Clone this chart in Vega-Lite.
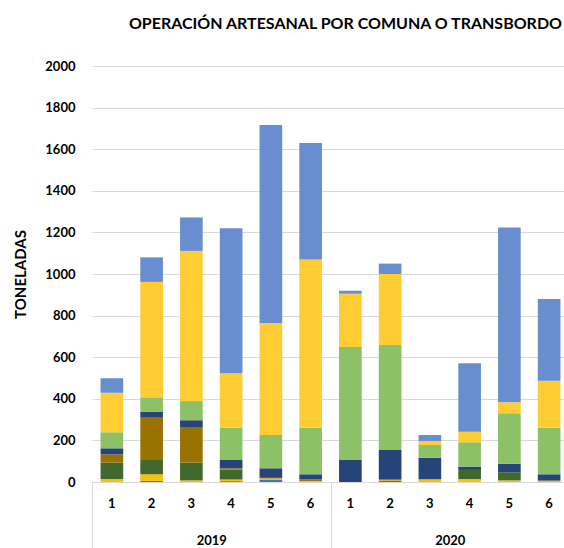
{
  "$schema": "https://vega.github.io/schema/vega-lite/v6.json",
  "width": 477,
  "height": 416,
  "autosize": {"type": "none"},
  "padding": {"left": 92, "top": 66, "right": 0, "bottom": 66},
  "background": "white",
  "config": {"view": {"stroke": null}, "font": "Lato"},
  "title": {"text": "OPERACIÓN ARTESANAL POR COMUNA O TRANSBORDO", "anchor": "end", "frame": "group", "dx": -7, "font": "Lato", "fontSize": 16, "fontWeight": "bold", "color": "#000000", "offset": 28},
  "data": {"values": [
    {"periodo": "2019-1", "anio": "2019", "serie": "S2", "toneladas": 14},
    {"periodo": "2019-1", "anio": "2019", "serie": "S3", "toneladas": 79},
    {"periodo": "2019-1", "anio": "2019", "serie": "S4", "toneladas": 40},
    {"periodo": "2019-1", "anio": "2019", "serie": "S5", "toneladas": 29},
    {"periodo": "2019-1", "anio": "2019", "serie": "S6", "toneladas": 77},
    {"periodo": "2019-1", "anio": "2019", "serie": "S7", "toneladas": 190},
    {"periodo": "2019-1", "anio": "2019", "serie": "S8", "toneladas": 70},
    {"periodo": "2019-2", "anio": "2019", "serie": "S1", "toneladas": 6},
    {"periodo": "2019-2", "anio": "2019", "serie": "S2", "toneladas": 31},
    {"periodo": "2019-2", "anio": "2019", "serie": "S3", "toneladas": 69},
    {"periodo": "2019-2", "anio": "2019", "serie": "S4", "toneladas": 203},
    {"periodo": "2019-2", "anio": "2019", "serie": "S5", "toneladas": 28},
    {"periodo": "2019-2", "anio": "2019", "serie": "S6", "toneladas": 70},
    {"periodo": "2019-2", "anio": "2019", "serie": "S7", "toneladas": 555},
    {"periodo": "2019-2", "anio": "2019", "serie": "S8", "toneladas": 118},
    {"periodo": "2019-3", "anio": "2019", "serie": "S2", "toneladas": 8},
    {"periodo": "2019-3", "anio": "2019", "serie": "S3", "toneladas": 85},
    {"periodo": "2019-3", "anio": "2019", "serie": "S4", "toneladas": 168},
    {"periodo": "2019-3", "anio": "2019", "serie": "S5", "toneladas": 36},
    {"periodo": "2019-3", "anio": "2019", "serie": "S6", "toneladas": 92},
    {"periodo": "2019-3", "anio": "2019", "serie": "S7", "toneladas": 722},
    {"periodo": "2019-3", "anio": "2019", "serie": "S8", "toneladas": 161},
    {"periodo": "2019-4", "anio": "2019", "serie": "S1", "toneladas": 4},
    {"periodo": "2019-4", "anio": "2019", "serie": "S2", "toneladas": 8},
    {"periodo": "2019-4", "anio": "2019", "serie": "S3", "toneladas": 48},
    {"periodo": "2019-4", "anio": "2019", "serie": "S4", "toneladas": 6},
    {"periodo": "2019-4", "anio": "2019", "serie": "S5", "toneladas": 40},
    {"periodo": "2019-4", "anio": "2019", "serie": "S6", "toneladas": 155},
    {"periodo": "2019-4", "anio": "2019", "serie": "S7", "toneladas": 262},
    {"periodo": "2019-4", "anio": "2019", "serie": "S8", "toneladas": 697},
    {"periodo": "2019-5", "anio": "2019", "serie": "S1", "toneladas": 12},
    {"periodo": "2019-5", "anio": "2019", "serie": "S2", "toneladas": 5},
    {"periodo": "2019-5", "anio": "2019", "serie": "S4", "toneladas": 3},
    {"periodo": "2019-5", "anio": "2019", "serie": "S5", "toneladas": 46},
    {"periodo": "2019-5", "anio": "2019", "serie": "S6", "toneladas": 160},
    {"periodo": "2019-5", "anio": "2019", "serie": "S7", "toneladas": 539},
    {"periodo": "2019-5", "anio": "2019", "serie": "S8", "toneladas": 951},
    {"periodo": "2019-6", "anio": "2019", "serie": "S2", "toneladas": 5},
    {"periodo": "2019-6", "anio": "2019", "serie": "S4", "toneladas": 8},
    {"periodo": "2019-6", "anio": "2019", "serie": "S5", "toneladas": 24},
    {"periodo": "2019-6", "anio": "2019", "serie": "S6", "toneladas": 224},
    {"periodo": "2019-6", "anio": "2019", "serie": "S7", "toneladas": 809},
    {"periodo": "2019-6", "anio": "2019", "serie": "S8", "toneladas": 560},
    {"periodo": "2020-1", "anio": "2020", "serie": "S5", "toneladas": 106},
    {"periodo": "2020-1", "anio": "2020", "serie": "S6", "toneladas": 543},
    {"periodo": "2020-1", "anio": "2020", "serie": "S7", "toneladas": 256},
    {"periodo": "2020-1", "anio": "2020", "serie": "S8", "toneladas": 15},
    {"periodo": "2020-2", "anio": "2020", "serie": "S1", "toneladas": 5},
    {"periodo": "2020-2", "anio": "2020", "serie": "S2", "toneladas": 3},
    {"periodo": "2020-2", "anio": "2020", "serie": "S4", "toneladas": 4},
    {"periodo": "2020-2", "anio": "2020", "serie": "S5", "toneladas": 142},
    {"periodo": "2020-2", "anio": "2020", "serie": "S6", "toneladas": 505},
    {"periodo": "2020-2", "anio": "2020", "serie": "S7", "toneladas": 341},
    {"periodo": "2020-2", "anio": "2020", "serie": "S8", "toneladas": 50},
    {"periodo": "2020-3", "anio": "2020", "serie": "S2", "toneladas": 13},
    {"periodo": "2020-3", "anio": "2020", "serie": "S5", "toneladas": 104},
    {"periodo": "2020-3", "anio": "2020", "serie": "S6", "toneladas": 61},
    {"periodo": "2020-3", "anio": "2020", "serie": "S7", "toneladas": 19},
    {"periodo": "2020-3", "anio": "2020", "serie": "S8", "toneladas": 29},
    {"periodo": "2020-4", "anio": "2020", "serie": "S2", "toneladas": 14},
    {"periodo": "2020-4", "anio": "2020", "serie": "S3", "toneladas": 44},
    {"periodo": "2020-4", "anio": "2020", "serie": "S5", "toneladas": 16},
    {"periodo": "2020-4", "anio": "2020", "serie": "S6", "toneladas": 117},
    {"periodo": "2020-4", "anio": "2020", "serie": "S7", "toneladas": 51},
    {"periodo": "2020-4", "anio": "2020", "serie": "S8", "toneladas": 329},
    {"periodo": "2020-5", "anio": "2020", "serie": "S2", "toneladas": 8},
    {"periodo": "2020-5", "anio": "2020", "serie": "S3", "toneladas": 39},
    {"periodo": "2020-5", "anio": "2020", "serie": "S5", "toneladas": 41},
    {"periodo": "2020-5", "anio": "2020", "serie": "S6", "toneladas": 242},
    {"periodo": "2020-5", "anio": "2020", "serie": "S7", "toneladas": 53},
    {"periodo": "2020-5", "anio": "2020", "serie": "S8", "toneladas": 841},
    {"periodo": "2020-6", "anio": "2020", "serie": "S2", "toneladas": 4},
    {"periodo": "2020-6", "anio": "2020", "serie": "S4", "toneladas": 4},
    {"periodo": "2020-6", "anio": "2020", "serie": "S5", "toneladas": 29},
    {"periodo": "2020-6", "anio": "2020", "serie": "S6", "toneladas": 224},
    {"periodo": "2020-6", "anio": "2020", "serie": "S7", "toneladas": 226},
    {"periodo": "2020-6", "anio": "2020", "serie": "S8", "toneladas": 393}
  ]},
  "layer": [
    {
      "mark": {"type": "bar"},
      "encoding": {
        "x": {"field": "periodo", "type": "nominal", "sort": "ascending",
              "scale": {"paddingInner": 0.43, "paddingOuter": 0.215},
              "axis": {"title": null, "orient": "bottom", "offset": 0, "labelAngle": 0, "labelExpr": "split(datum.value, '-')[1]", "ticks": false, "domain": true, "domainColor": "#d9d9d9", "domainWidth": 1, "labelPadding": 15, "labelFont": "Lato", "labelFontSize": 13, "labelFontWeight": "bold", "labelColor": "#000000", "grid": false}},
        "y": {"field": "toneladas", "type": "quantitative", "aggregate": "sum", "stack": "zero",
              "scale": {"domain": [0, 2000]},
              "axis": {"title": "TONELADAS", "format": "d", "values": [0,200,400,600,800,1000,1200,1400,1600,1800,2000], "domain": false, "ticks": false, "grid": true, "gridColor": "#d9d9d9", "gridWidth": 1, "labelPadding": 17, "labelFont": "Lato", "labelFontSize": 13, "labelFontWeight": "bold", "labelColor": "#000000", "titleFont": "Lato", "titleFontSize": 15, "titleFontWeight": "bold", "titleColor": "#000000", "titlePadding": 16}},
        "color": {"field": "serie", "type": "nominal", "legend": null,
                  "scale": {"domain": ["S1","S2","S3","S4","S5","S6","S7","S8"], "range": ["#4472C4","#FFC000","#43682B","#997300","#264478","#8CC168","#FFCD33","#698ED0"]}},
        "order": {"field": "serie", "sort": "ascending"}
      }
    },
    {
      "mark": {"type": "point", "opacity": 0},
      "encoding": {
        "x": {"field": "anio", "type": "nominal",
              "scale": {"type": "band", "paddingInner": 0, "paddingOuter": 0},
              "axis": {"title": null, "orient": "bottom", "offset": 0, "labelAngle": 0, "domain": false, "ticks": true, "tickBand": "extent", "tickSize": 66, "tickColor": "#d9d9d9", "tickWidth": 1, "labelPadding": -14, "labelBaseline": "top", "labelFont": "Lato", "labelFontSize": 13, "labelFontWeight": "bold", "labelColor": "#000000", "grid": false}}
      }
    }
  ],
  "resolve": {"scale": {"x": "independent"}, "axis": {"x": "independent"}}
}
